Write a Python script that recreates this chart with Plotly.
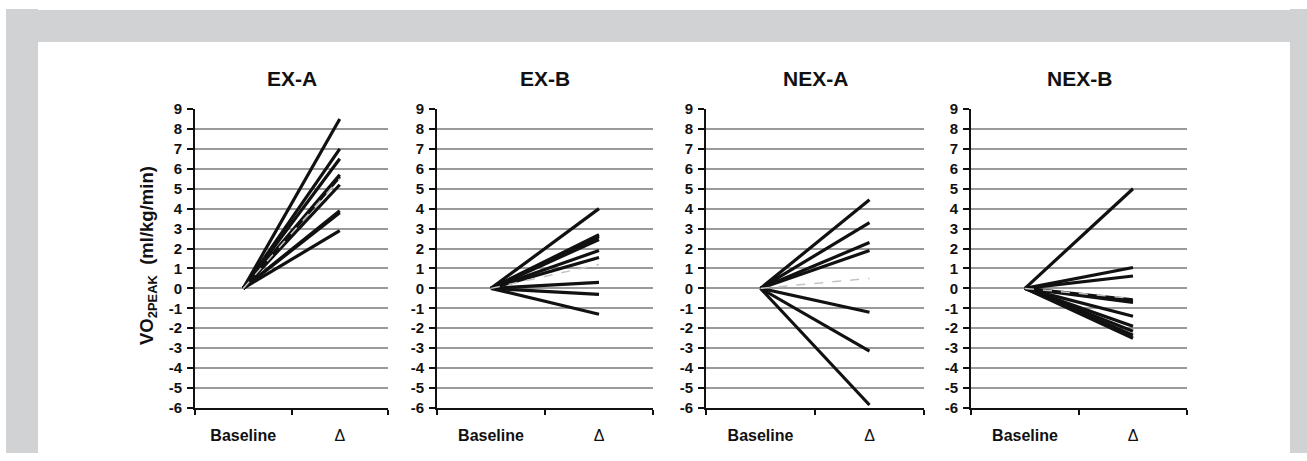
import plotly.graph_objects as go

# ---------------- data ----------------
categories = ["Baseline", "Δ"]
category_labels = ["<b>Baseline</b>", "Δ"]
panel_titles = ["EX-A", "EX-B", "NEX-A", "NEX-B"]
baseline_value = 0
ex_a = [8.5, 7.0, 6.5, 5.7, 5.6, 5.2, 3.9, 3.8, 2.9]
ex_b = [4.0, 2.7, 2.6, 2.45, 1.9, 1.55, 0.3, -0.3, -1.3]
nex_a = [4.45, 3.3, 2.3, 1.9, -1.2, -3.15, -5.85]
nex_b = [5.0, 1.05, 0.62, -0.58, -0.7, -1.4, -1.9, -2.15, -2.35, -2.5]
group_means = [5.5, 1.2, 0.5, -0.5]
y_ticks = list(range(-6, 10))

groups = [ex_a, ex_b, nex_a, nex_b]

# ---------------- layout helpers ----------------
W, H = 1307, 461
def px_x(p):
    return p / W
def ry(p):
    # vertical position in figure pixels (small correction for page rendering)
    return (p - 9.0) / 0.9632
def px_y(p):
    return 1 - ry(p) / H

x_domains = [(195, 388), (437, 653), (706, 924), (971, 1187)]
y_domain = [px_y(408), px_y(109)]

FONT = "Arial, 'Liberation Sans', sans-serif"

fig = go.Figure()

for i, (vals, mean) in enumerate(zip(groups, group_means)):
    ax = "" if i == 0 else str(i + 1)
    for v in vals:
        fig.add_trace(go.Scatter(
            x=categories, y=[baseline_value, v], mode="lines",
            line=dict(color="#111111", width=3.2),
            xaxis="x" + ax, yaxis="y" + ax, showlegend=False, hoverinfo="skip"))
    fig.add_trace(go.Scatter(
        x=categories, y=[baseline_value, mean], mode="lines",
        line=dict(color="#c4c4c4", width=1.5, dash="dash"),
        xaxis="x" + ax, yaxis="y" + ax, showlegend=False, hoverinfo="skip"))

layout = dict(
    width=W, height=H,
    margin=dict(l=0, r=0, t=0, b=0),
    paper_bgcolor="white", plot_bgcolor="white",
    font=dict(family=FONT, color="#111111"),
    showlegend=False,
)

annotations = []
for i, (x0, x1) in enumerate(x_domains):
    ax = "" if i == 0 else str(i + 1)
    layout["xaxis" + ax] = dict(
        domain=[px_x(x0), px_x(x1)], anchor="y" + ax,
        type="category", categoryorder="array", categoryarray=categories,
        tickvals=categories, ticktext=category_labels,
        range=[-0.5, 1.5], tickson="boundaries", ticks="outside",
        ticklen=5, tickwidth=2, tickcolor="#111111",
        showline=True, linecolor="#111111", linewidth=2,
        showgrid=False, zeroline=False,
        tickfont=dict(family=FONT, size=16, color="#111111"),
        ticklabelstandoff=12,
    )
    layout["yaxis" + ax] = dict(
        domain=y_domain, anchor="x" + ax,
        range=[-6, 9], tickvals=y_ticks, ticktext=[str(t) for t in y_ticks],
        ticks="outside", ticklen=6, tickwidth=2, tickcolor="#111111",
        showline=True, linecolor="#111111", linewidth=2,
        showgrid=True, gridcolor="#9a9a9a", gridwidth=1.5,
        zeroline=False, ticklabelstandoff=2,
        tickfont=dict(family=FONT, size=15, weight="bold", color="#111111"),
    )
    annotations.append(dict(
        x=px_x((x0 + x1) / 2), y=px_y(79), xref="paper", yref="paper",
        text="<b>" + panel_titles[i] + "</b>", showarrow=False,
        xanchor="center", yanchor="middle",
        font=dict(family=FONT, size=21, color="#111111")))

annotations.append(dict(
    x=px_x(148), y=px_y(256), xref="paper", yref="paper",
    text="<b>VO<sub>2PEAK</sub>  (ml/kg/min)</b>", showarrow=False,
    textangle=-90, xanchor="center", yanchor="middle",
    font=dict(family=FONT, size=18.5, color="#111111")))

layout["annotations"] = annotations

frame = "#d1d2d4"
layout["shapes"] = [
    dict(type="rect", xref="paper", yref="paper", layer="below",
         x0=px_x(6), x1=1, y0=px_y(42), y1=px_y(10),
         fillcolor=frame, line=dict(width=0)),
    dict(type="rect", xref="paper", yref="paper", layer="below",
         x0=px_x(6), x1=px_x(38), y0=0, y1=px_y(9),
         fillcolor=frame, line=dict(width=0)),
    dict(type="rect", xref="paper", yref="paper", layer="below",
         x0=px_x(1290), x1=1, y0=0, y1=px_y(9),
         fillcolor=frame, line=dict(width=0)),
]

fig.update_layout(**layout)

page_css = (
    "var s=document.createElement('style');"
    "s.textContent='html,body{margin:0;padding:0;overflow:hidden;height:461px;width:1307px;}"
    "body>div{margin:0;padding:0;line-height:0;font-size:0;}';"
    "document.head.appendChild(s);"
)
fig.write_html("out.html", config={"displayModeBar": False}, post_script=page_css)
